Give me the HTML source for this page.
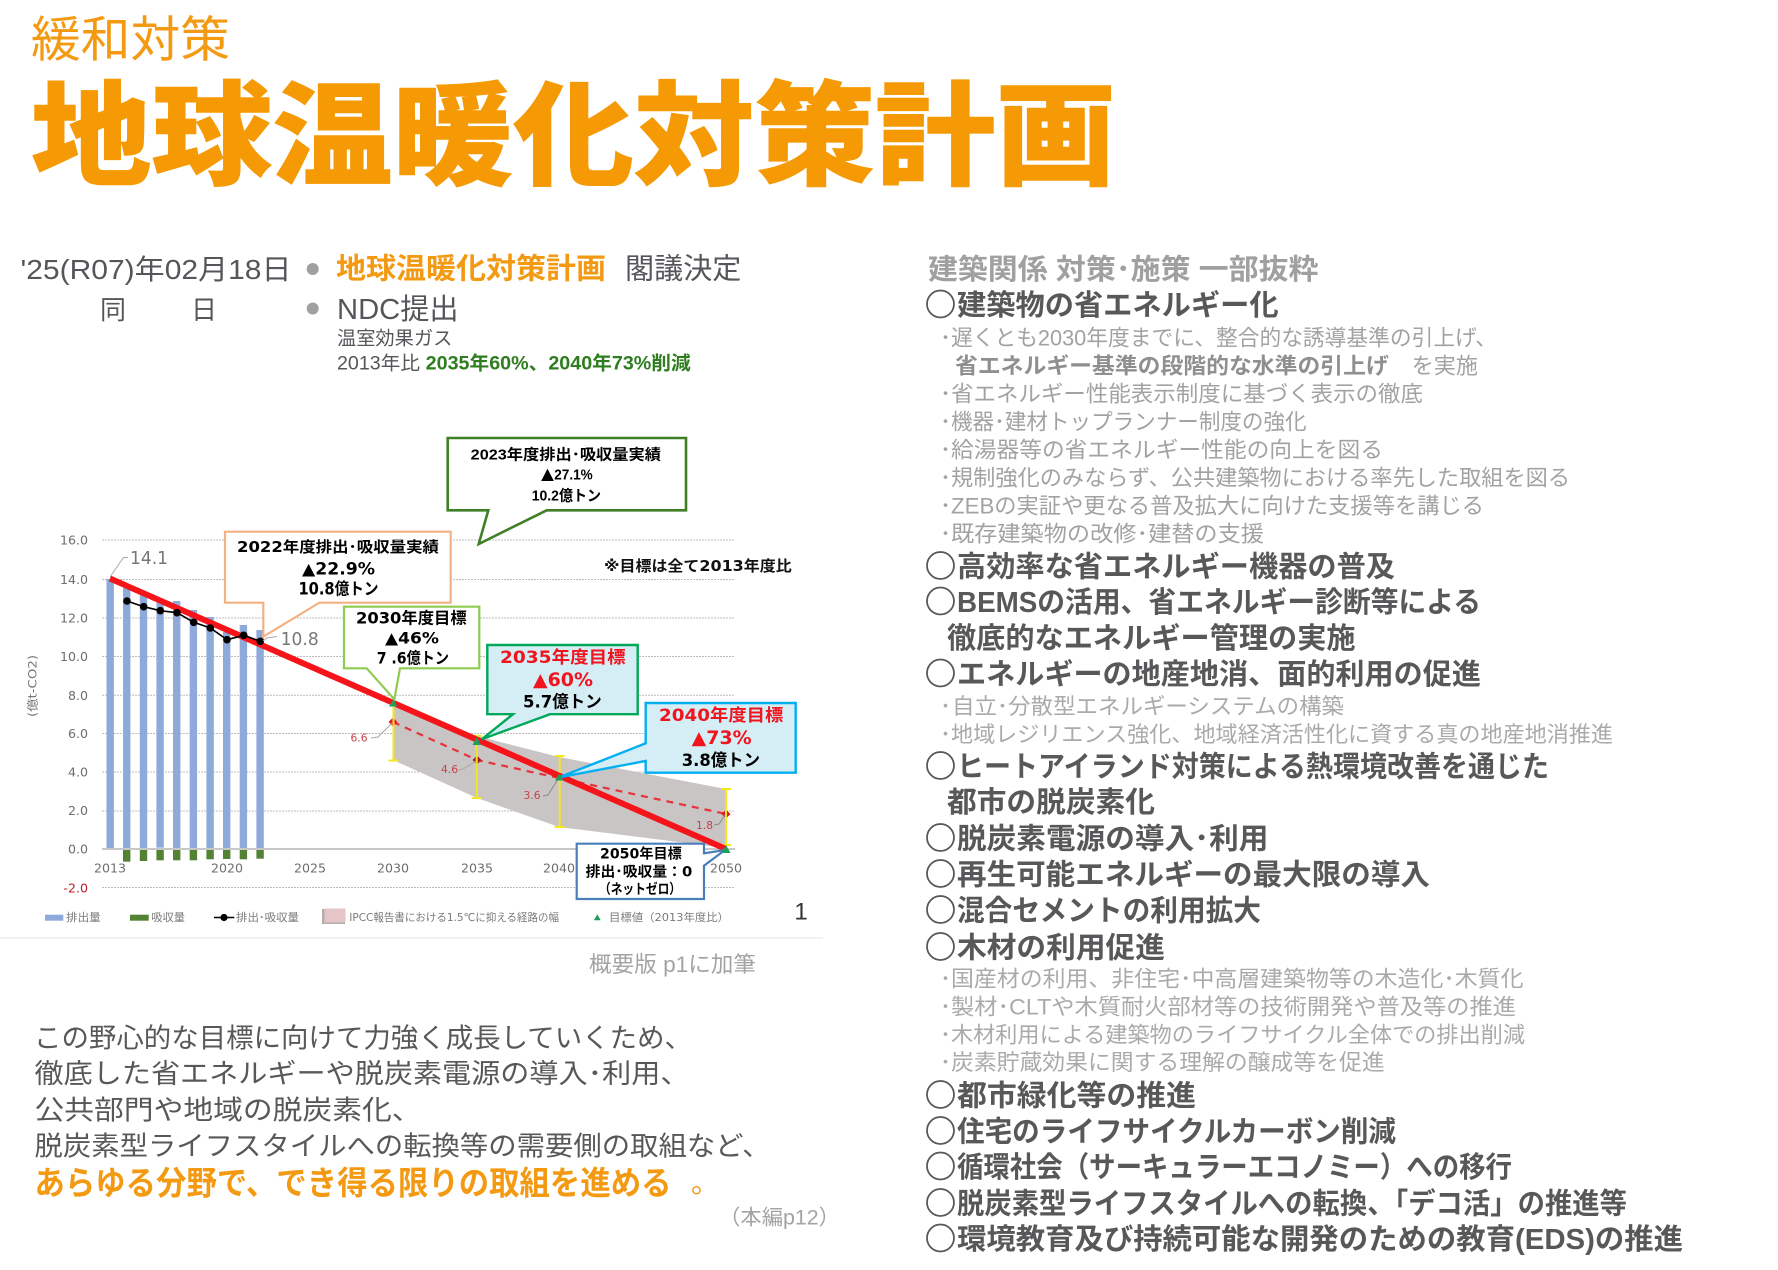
<!DOCTYPE html>
<html lang="ja">
<head>
<meta charset="utf-8">
<title>地球温暖化対策計画</title>
<style>
html,body{margin:0;padding:0;background:#fff}
svg{display:block}
text{font-family:"Liberation Sans","Noto Sans CJK JP",sans-serif;dominant-baseline:central}
.big{font-size:29px;font-weight:700;fill:#58585a}
.sub{font-size:22px;fill:#a2a2a2}
.sub2{font-size:22px;fill:#aaaaaa}
.ci{font-size:29px;fill:#58585a;stroke:#58585a;stroke-width:.8}
.par{font-size:27px;fill:#58585a}
.ch{font-family:"DejaVu Sans","Noto Sans CJK JP",sans-serif}
.yl{font-size:12.6px;fill:#6e6e6e;text-anchor:end}
.xl{font-size:12.6px;fill:#6e6e6e;text-anchor:middle}
.cb{font-weight:700;font-size:15px;fill:#000}
.lg{font-size:11px;fill:#7a7a7a}
.rl{font-size:10.5px;fill:#c8404a}
.tri{font-family:"Noto Sans CJK JP",sans-serif}
</style>
</head>
<body>
<svg xmlns="http://www.w3.org/2000/svg" width="1778" height="1270" viewBox="0 0 1778 1270">
<rect width="1778" height="1270" fill="#fff"/>

<!-- Title -->
<text x="31" y="40.5" font-size="49" fill="#f39a12" textLength="199" lengthAdjust="spacingAndGlyphs">緩和対策</text>
<text x="31" y="137" font-size="113" font-weight="900" fill="#f59a05" stroke="#f59a05" stroke-width="0.6" textLength="1085" lengthAdjust="spacingAndGlyphs">地球温暖化対策計画</text>

<!-- Date rows -->
<text x="20.5" y="269.5" font-size="28" fill="#55565a" textLength="271" lengthAdjust="spacingAndGlyphs">'25(R07)年02月18日</text>
<circle cx="312.7" cy="269" r="6" fill="#a0a0a0"/>
<text x="336" y="269.5" font-size="29" font-weight="700" fill="#f39a12" textLength="270" lengthAdjust="spacingAndGlyphs">地球温暖化対策計画</text>
<text x="625" y="269.5" font-size="29" fill="#55565a" textLength="116.4" lengthAdjust="spacingAndGlyphs">閣議決定</text>
<text x="100" y="310" font-size="26" fill="#55565a">同</text>
<text x="191" y="310" font-size="26" fill="#55565a">日</text>
<circle cx="312.7" cy="308.5" r="6" fill="#a0a0a0"/>
<text x="337" y="310" font-size="29" fill="#55565a" textLength="121.6" lengthAdjust="spacingAndGlyphs">NDC提出</text>
<text x="337" y="339" font-size="19" fill="#55565a" textLength="115.3" lengthAdjust="spacingAndGlyphs">温室効果ガス</text>
<text x="337" y="364" font-size="19" fill="#55565a" textLength="83" lengthAdjust="spacingAndGlyphs">2013年比</text>
<text x="425.7" y="364" font-size="19" font-weight="700" fill="#2e7d1f" textLength="265" lengthAdjust="spacingAndGlyphs">2035年60%、2040年73%削減</text>

<!-- Chart grid -->
<g stroke="#bcbcbc" stroke-width="1" stroke-dasharray="2 1" fill="none">
<path d="M102 540H735M102 579.5H735M102 618H735M102 656.5H735M102 695.3H735M102 733.5H735M102 772H735M102 811H735M102 887.5H735"/>
</g>

<!-- Shaded range -->
<polygon points="393,703 477,736 559,757 726,789 726,848 559,827 477,798 393,760" fill="#c9c5c4"/>
<path d="M102 849H735" stroke="#b5b5b5" stroke-width="1.6"/>

<!-- Bars -->
<g fill="#8eaadb">
<rect x="106.5" y="579" width="7.4" height="269"/>
<rect x="123" y="588" width="7.4" height="260"/>
<rect x="139.8" y="595" width="7.4" height="253"/>
<rect x="156.4" y="602.7" width="7.4" height="245"/>
<rect x="173" y="601" width="7.4" height="247"/>
<rect x="189.7" y="610" width="7.4" height="238"/>
<rect x="206.4" y="617" width="7.4" height="231"/>
<rect x="223" y="632" width="7.4" height="216"/>
<rect x="239.7" y="625" width="7.4" height="223"/>
<rect x="256.4" y="630" width="7.4" height="218"/>
</g>
<g fill="#548235">
<rect x="123" y="850" width="7.4" height="11.7"/>
<rect x="139.8" y="850" width="7.4" height="11"/>
<rect x="156.4" y="850" width="7.4" height="10.3"/>
<rect x="173" y="850" width="7.4" height="10.3"/>
<rect x="189.7" y="850" width="7.4" height="10.3"/>
<rect x="206.4" y="850" width="7.4" height="9.3"/>
<rect x="223" y="850" width="7.4" height="9"/>
<rect x="239.7" y="850" width="7.4" height="9.3"/>
<rect x="256.4" y="850" width="7.4" height="8.7"/>
</g>

<!-- Dashed pathway -->
<path d="M393 722L477 760L559 778L726 814" fill="none" stroke="#e8323a" stroke-width="2.2" stroke-dasharray="7 6"/>
<g fill="#e01b24">
<polygon points="393,717.5 397.5,722 393,726.5 388.5,722"/>
<polygon points="477,755.5 481.5,760 477,764.5 472.5,760" fill="#a32028"/>
<polygon points="726,809.5 730.5,814 726,818.5 721.5,814"/>
</g>

<!-- Error bars -->
<g stroke="#f5e61e" stroke-width="2" fill="none">
<path d="M393.5 702V760M388.5 760.5H398.5"/>
<path d="M476.7 736V798M471.7 736H481.7M471.7 798H481.7"/>
<path d="M559.7 756V827M554.7 756H564.7M554.7 827H564.7"/>
<path d="M726 789V845M721 789H731M721 845H731"/>
</g>

<!-- Target line -->
<line x1="110" y1="578.5" x2="726" y2="849" stroke="#f5141a" stroke-width="6"/>

<!-- Net line -->
<polyline points="127,601 143.7,606.7 160.3,610.7 177,612.7 193.7,622.3 210.3,628 227,639.7 243.7,635.3 260.3,641.3" fill="none" stroke="#000" stroke-width="1.6"/>
<g fill="#000">
<circle cx="127" cy="601" r="3.8"/><circle cx="143.7" cy="606.7" r="3.8"/><circle cx="160.3" cy="610.7" r="3.8"/><circle cx="177" cy="612.7" r="3.8"/><circle cx="193.7" cy="622.3" r="3.8"/><circle cx="210.3" cy="628" r="3.8"/><circle cx="227" cy="639.7" r="3.8"/><circle cx="243.7" cy="635.3" r="3.8"/><circle cx="260.3" cy="641.3" r="3.8"/>
</g>

<!-- Axis labels -->
<g class="ch">
<text class="ch yl" x="88" y="540">16.0</text>
<text class="ch yl" x="88" y="579.5">14.0</text>
<text class="ch yl" x="88" y="618">12.0</text>
<text class="ch yl" x="88" y="656.5">10.0</text>
<text class="ch yl" x="88" y="695.3">8.0</text>
<text class="ch yl" x="88" y="733.5">6.0</text>
<text class="ch yl" x="88" y="772">4.0</text>
<text class="ch yl" x="88" y="810.5">2.0</text>
<text class="ch yl" x="88" y="849">0.0</text>
<text class="ch yl" x="88" y="888" style="fill:#c0202a">-2.0</text>
<text class="ch xl" x="110" y="868">2013</text>
<text class="ch xl" x="227" y="868">2020</text>
<text class="ch xl" x="310" y="868">2025</text>
<text class="ch xl" x="393" y="868">2030</text>
<text class="ch xl" x="477" y="868">2035</text>
<text class="ch xl" x="559" y="868">2040</text>
<text class="ch xl" x="726" y="868">2050</text>
</g>
<text class="ch" transform="translate(32.5 686) rotate(-90)" font-size="11.5" fill="#777" text-anchor="middle" textLength="62" lengthAdjust="spacingAndGlyphs">(億t-CO2)</text>

<!-- Data labels with leaders -->
<path d="M110 577L123.5 557.5H128" fill="none" stroke="#a8a8a8" stroke-width="1"/>
<text class="ch" x="130" y="559" font-size="17.5" fill="#777" textLength="38" lengthAdjust="spacingAndGlyphs">14.1</text>
<path d="M263 641L267 638L277 636.5" fill="none" stroke="#a8a8a8" stroke-width="1"/>
<text class="ch" x="280.7" y="640" font-size="17.5" fill="#777" textLength="38" lengthAdjust="spacingAndGlyphs">10.8</text>
<path d="M371 738L378 737L392 723" fill="none" stroke="#a8a8a8" stroke-width="1"/>
<text class="ch rl" x="350.5" y="738.5" textLength="17" lengthAdjust="spacingAndGlyphs">6.6</text>
<path d="M458 770L463 769L476 761" fill="none" stroke="#a8a8a8" stroke-width="1"/>
<text class="ch rl" x="441" y="770" textLength="17" lengthAdjust="spacingAndGlyphs">4.6</text>
<path d="M543 796L548 795L558 779" fill="none" stroke="#8a8a8a" stroke-width="1"/>
<text class="ch rl" x="523.5" y="796" textLength="17" lengthAdjust="spacingAndGlyphs">3.6</text>
<path d="M714 825L719 824L725 815" fill="none" stroke="#8a8a8a" stroke-width="1"/>
<text class="ch rl" x="696" y="826" textLength="17" lengthAdjust="spacingAndGlyphs">1.8</text>

<text class="ch" x="604" y="566" font-size="15" font-weight="700" fill="#111" textLength="187.7" lengthAdjust="spacingAndGlyphs">※目標は全て2013年度比</text>

<!-- Callout 2023 -->
<path d="M447.7 438H686V510.3H546.7L478.7 544L488.3 510.3H447.7Z" fill="#fff" stroke="#3f7f26" stroke-width="2.6"/>
<text class="cb" x="470.7" y="455" textLength="190.3" lengthAdjust="spacingAndGlyphs">2023年度排出･吸収量実績</text>
<text class="cb" x="540.7" y="475" textLength="52" lengthAdjust="spacingAndGlyphs"><tspan class="tri">▲</tspan>27.1%</text>
<text class="cb" x="531.7" y="496" textLength="69.3" lengthAdjust="spacingAndGlyphs">10.2億トン</text>

<!-- Callout 2022 -->
<path d="M225 531.7H450.7V602.7H319.3L263.3 636.7V602.7H225Z" fill="#fff" stroke="#f4b183" stroke-width="2.2"/>
<text class="ch cb" x="237" y="547" textLength="202" lengthAdjust="spacingAndGlyphs">2022年度排出･吸収量実績</text>
<text class="ch cb" x="302" y="569" style="font-size:16.5px" textLength="73" lengthAdjust="spacingAndGlyphs">▲22.9%</text>
<text class="ch cb" x="298.5" y="589" style="font-size:16.5px" textLength="80" lengthAdjust="spacingAndGlyphs">10.8億トン</text>

<!-- Callout 2030 -->
<path d="M344 606.7H479.3V668.3H400L394.3 699.3L366.7 668.3H344Z" fill="#fff" stroke="#8fcb4f" stroke-width="2.2"/>
<text class="ch cb" x="356" y="618" style="font-size:16px" textLength="110.7" lengthAdjust="spacingAndGlyphs">2030年度目標</text>
<text class="ch cb" x="385" y="638" style="font-size:16px" textLength="54" lengthAdjust="spacingAndGlyphs">▲46%</text>
<text class="ch cb" x="376.7" y="658" style="font-size:16px" textLength="72.3" lengthAdjust="spacingAndGlyphs">7 .6億トン</text>

<!-- Callout 2035 -->
<path d="M487.3 645H637.7V714.2H550L481.7 739.3L513 714.2H487.3Z" fill="#d5edf5" stroke="#00a85a" stroke-width="2.4"/>
<text class="ch cb" x="500" y="658" style="fill:#f0141e;font-size:17px" textLength="125.7" lengthAdjust="spacingAndGlyphs">2035年度目標</text>
<text class="ch cb" x="533" y="680.5" style="fill:#f0141e;font-size:18.5px" textLength="60" lengthAdjust="spacingAndGlyphs">▲60%</text>
<text class="ch cb" x="523" y="702.7" style="font-size:17px" textLength="78.7" lengthAdjust="spacingAndGlyphs">5.7億トン</text>

<!-- Callout 2040 -->
<path d="M645.7 703H795.7V772.7H645.7V761L559.3 777.3L645.7 743.3Z" fill="#d5edf5" stroke="#00b0f0" stroke-width="2.4"/>
<text class="ch cb" x="659" y="716" style="fill:#f0141e;font-size:17px" textLength="124.3" lengthAdjust="spacingAndGlyphs">2040年度目標</text>
<text class="ch cb" x="691.7" y="738.5" style="fill:#f0141e;font-size:18.5px" textLength="60" lengthAdjust="spacingAndGlyphs">▲73%</text>
<text class="ch cb" x="681.7" y="761" style="font-size:17px" textLength="78.3" lengthAdjust="spacingAndGlyphs">3.8億トン</text>

<!-- Callout 2050 -->
<path d="M576.7 843.7H704V853.3L725 850L704 865.7V899H576.7Z" fill="#fff" stroke="#4a7ebb" stroke-width="2.2"/>
<text class="ch cb" x="600" y="854.5" style="font-size:14px" textLength="81.7" lengthAdjust="spacingAndGlyphs">2050年目標</text>
<text class="ch cb" x="585.7" y="872.5" style="font-size:14px" textLength="106.6" lengthAdjust="spacingAndGlyphs">排出･吸収量：0</text>
<text class="ch cb" x="599" y="890" style="font-size:14px" textLength="82" lengthAdjust="spacingAndGlyphs">（ネットゼロ）</text>

<!-- Target markers -->
<g fill="#1f9e5f">
<polygon points="393.3,699.5 397.5,706.5 389,706.5"/>
<polygon points="476.7,737 481,745 472.5,745"/>
<polygon points="559.3,773.5 563.5,780.5 555,780.5"/>
<polygon points="726,845 730.5,853 721.5,853"/>
</g>

<!-- Legend -->
<rect x="45" y="914.7" width="18.3" height="6" fill="#8eaadb"/>
<text class="ch lg" x="66" y="917.3" textLength="34.7" lengthAdjust="spacingAndGlyphs">排出量</text>
<rect x="130" y="914.7" width="18.7" height="6" fill="#548235"/>
<text class="ch lg" x="151.3" y="917.3" textLength="33.7" lengthAdjust="spacingAndGlyphs">吸収量</text>
<path d="M214 917.5H234.3" stroke="#000" stroke-width="1.6"/>
<circle cx="224" cy="917.5" r="3.6" fill="#000"/>
<text class="ch lg" x="236" y="917.3" textLength="63" lengthAdjust="spacingAndGlyphs">排出･吸収量</text>
<rect x="322" y="909" width="23" height="15" fill="#b5adad"/>
<rect x="324.5" y="908.5" width="21" height="14" fill="#e6c5c8"/>
<text class="ch lg" x="349.3" y="917.3" textLength="209.7" lengthAdjust="spacingAndGlyphs">IPCC報告書における1.5℃に抑える経路の幅</text>
<polygon points="597.3,914.3 600.7,920.3 593.9,920.3" fill="#1f9e5f"/>
<text class="ch lg" x="609" y="917.3" textLength="120" lengthAdjust="spacingAndGlyphs">目標値（2013年度比）</text>

<text x="801" y="912" font-size="24" fill="#333" text-anchor="middle">1</text>
<rect x="0" y="937" width="823" height="2" fill="#f2f2f2"/>
<text x="589" y="964.5" font-size="22" fill="#a3a3a3" textLength="167" lengthAdjust="spacingAndGlyphs">概要版 p1に加筆</text>

<!-- Paragraph -->
<text class="par" x="34" y="1038.5" textLength="658" lengthAdjust="spacingAndGlyphs">この野心的な目標に向けて力強く成長していくため、</text>
<text class="par" x="34.5" y="1074" textLength="655" lengthAdjust="spacingAndGlyphs">徹底した省エネルギーや脱炭素電源の導入･利用、</text>
<text class="par" x="34.5" y="1110.5" textLength="387" lengthAdjust="spacingAndGlyphs">公共部門や地域の脱炭素化、</text>
<text class="par" x="34.5" y="1146.5" textLength="736" lengthAdjust="spacingAndGlyphs">脱炭素型ライフスタイルへの転換等の需要側の取組など、</text>
<text x="34.5" y="1183" font-size="33" font-weight="700" fill="#f39a12" textLength="637" lengthAdjust="spacingAndGlyphs">あらゆる分野で、でき得る限りの取組を進める</text>
<text x="691" y="1183" font-size="28" fill="#f39a12">。</text>
<text x="719" y="1218" font-size="21" fill="#a3a3a3" textLength="121" lengthAdjust="spacingAndGlyphs">（本編p12）</text>

<!-- Right column -->
<text x="928" y="270" font-size="28.5" font-weight="700" fill="#a0a0a0" textLength="390.4" lengthAdjust="spacingAndGlyphs">建築関係 対策･施策 一部抜粋</text>

<text class="ci" x="925.5" y="306" textLength="30" lengthAdjust="spacingAndGlyphs">◯</text>
<text class="big" x="957" y="306" textLength="321.6" lengthAdjust="spacingAndGlyphs">建築物の省エネルギー化</text>

<text class="sub" x="940" y="338">･</text><text class="sub" x="951" y="338" textLength="546" lengthAdjust="spacingAndGlyphs">遅くとも2030年度までに、整合的な誘導基準の引上げ、</text>
<text class="sub" x="955" y="366" font-weight="700" style="fill:#8f8f8f" textLength="433.8" lengthAdjust="spacingAndGlyphs">省エネルギー基準の段階的な水準の引上げ</text>
<text class="sub" x="1411.7" y="366" textLength="66.3" lengthAdjust="spacingAndGlyphs">を実施</text>
<text class="sub" x="940" y="394">･</text><text class="sub" x="951" y="394" textLength="472" lengthAdjust="spacingAndGlyphs">省エネルギー性能表示制度に基づく表示の徹底</text>
<text class="sub" x="940" y="422">･</text><text class="sub" x="951" y="422" textLength="355.6" lengthAdjust="spacingAndGlyphs">機器･建材トップランナー制度の強化</text>
<text class="sub" x="940" y="450">･</text><text class="sub" x="951" y="450" textLength="432" lengthAdjust="spacingAndGlyphs">給湯器等の省エネルギー性能の向上を図る</text>
<text class="sub" x="940" y="478">･</text><text class="sub" x="951" y="478" textLength="619" lengthAdjust="spacingAndGlyphs">規制強化のみならず、公共建築物における率先した取組を図る</text>
<text class="sub" x="940" y="506">･</text><text class="sub" x="951" y="506" textLength="533" lengthAdjust="spacingAndGlyphs">ZEBの実証や更なる普及拡大に向けた支援等を講じる</text>
<text class="sub" x="940" y="534">･</text><text class="sub" x="951" y="534" textLength="313" lengthAdjust="spacingAndGlyphs">既存建築物の改修･建替の支援</text>

<text class="ci" x="925.5" y="567.5" textLength="30" lengthAdjust="spacingAndGlyphs">◯</text>
<text class="big" x="957" y="567.5" textLength="438" lengthAdjust="spacingAndGlyphs">高効率な省エネルギー機器の普及</text>

<text class="ci" x="925.5" y="603" textLength="30" lengthAdjust="spacingAndGlyphs">◯</text>
<text class="big" x="957" y="603" textLength="524" lengthAdjust="spacingAndGlyphs">BEMSの活用、省エネルギー診断等による</text>
<text class="big" x="947" y="639" textLength="408.6" lengthAdjust="spacingAndGlyphs">徹底的なエネルギー管理の実施</text>

<text class="ci" x="925.5" y="675" textLength="30" lengthAdjust="spacingAndGlyphs">◯</text>
<text class="big" x="957" y="675" textLength="524" lengthAdjust="spacingAndGlyphs">エネルギーの地産地消、面的利用の促進</text>

<text class="sub2" x="940" y="706.5">･</text><text class="sub2" x="952" y="706.5" textLength="392" lengthAdjust="spacingAndGlyphs">自立･分散型エネルギーシステムの構築</text>
<text class="sub2" x="940" y="734.5">･</text><text class="sub2" x="951" y="734.5" textLength="662" lengthAdjust="spacingAndGlyphs">地域レジリエンス強化、地域経済活性化に資する真の地産地消推進</text>

<text class="ci" x="925.5" y="767.5" textLength="30" lengthAdjust="spacingAndGlyphs">◯</text>
<text class="big" x="957" y="767.5" textLength="592" lengthAdjust="spacingAndGlyphs">ヒートアイランド対策による熱環境改善を通じた</text>
<text class="big" x="947" y="803" textLength="208" lengthAdjust="spacingAndGlyphs">都市の脱炭素化</text>

<text class="ci" x="925.5" y="839.5" textLength="30" lengthAdjust="spacingAndGlyphs">◯</text>
<text class="big" x="957" y="839.5" textLength="311.4" lengthAdjust="spacingAndGlyphs">脱炭素電源の導入･利用</text>

<text class="ci" x="925.5" y="875.5" textLength="30" lengthAdjust="spacingAndGlyphs">◯</text>
<text class="big" x="957" y="875.5" textLength="473" lengthAdjust="spacingAndGlyphs">再生可能エネルギーの最大限の導入</text>

<text class="ci" x="925.5" y="911.5" textLength="30" lengthAdjust="spacingAndGlyphs">◯</text>
<text class="big" x="957" y="911.5" textLength="304" lengthAdjust="spacingAndGlyphs">混合セメントの利用拡大</text>

<text class="ci" x="925.5" y="948.5" textLength="30" lengthAdjust="spacingAndGlyphs">◯</text>
<text class="big" x="957" y="948.5" textLength="208" lengthAdjust="spacingAndGlyphs">木材の利用促進</text>

<text class="sub2" x="940" y="979">･</text><text class="sub2" x="951" y="979" textLength="572.5" lengthAdjust="spacingAndGlyphs">国産材の利用、非住宅･中高層建築物等の木造化･木質化</text>
<text class="sub2" x="940" y="1007">･</text><text class="sub2" x="951" y="1007" textLength="565" lengthAdjust="spacingAndGlyphs">製材･CLTや木質耐火部材等の技術開発や普及等の推進</text>
<text class="sub2" x="940" y="1035">･</text><text class="sub2" x="951" y="1035" textLength="574" lengthAdjust="spacingAndGlyphs">木材利用による建築物のライフサイクル全体での排出削減</text>
<text class="sub2" x="940" y="1062.5">･</text><text class="sub2" x="951" y="1062.5" textLength="433.7" lengthAdjust="spacingAndGlyphs">炭素貯蔵効果に関する理解の醸成等を促進</text>

<text class="ci" x="925.5" y="1096.5" textLength="30" lengthAdjust="spacingAndGlyphs">◯</text>
<text class="big" x="957" y="1096.5" textLength="239" lengthAdjust="spacingAndGlyphs">都市緑化等の推進</text>

<text class="ci" x="925.5" y="1132.5" textLength="30" lengthAdjust="spacingAndGlyphs">◯</text>
<text class="big" x="957" y="1132.5" textLength="439" lengthAdjust="spacingAndGlyphs">住宅のライフサイクルカーボン削減</text>

<text class="ci" x="925.5" y="1168" textLength="30" lengthAdjust="spacingAndGlyphs">◯</text>
<text class="big" x="957" y="1168" textLength="555" lengthAdjust="spacingAndGlyphs">循環社会（サーキュラーエコノミー）への移行</text>

<text class="ci" x="925.5" y="1204.5" textLength="30" lengthAdjust="spacingAndGlyphs">◯</text>
<text class="big" x="957" y="1204.5" textLength="670" lengthAdjust="spacingAndGlyphs">脱炭素型ライフスタイルへの転換、「デコ活」の推進等</text>

<text class="ci" x="925.5" y="1240" textLength="30" lengthAdjust="spacingAndGlyphs">◯</text>
<text class="big" x="957" y="1240" textLength="726" lengthAdjust="spacingAndGlyphs">環境教育及び持続可能な開発のための教育(EDS)の推進</text>
</svg>
</body>
</html>
